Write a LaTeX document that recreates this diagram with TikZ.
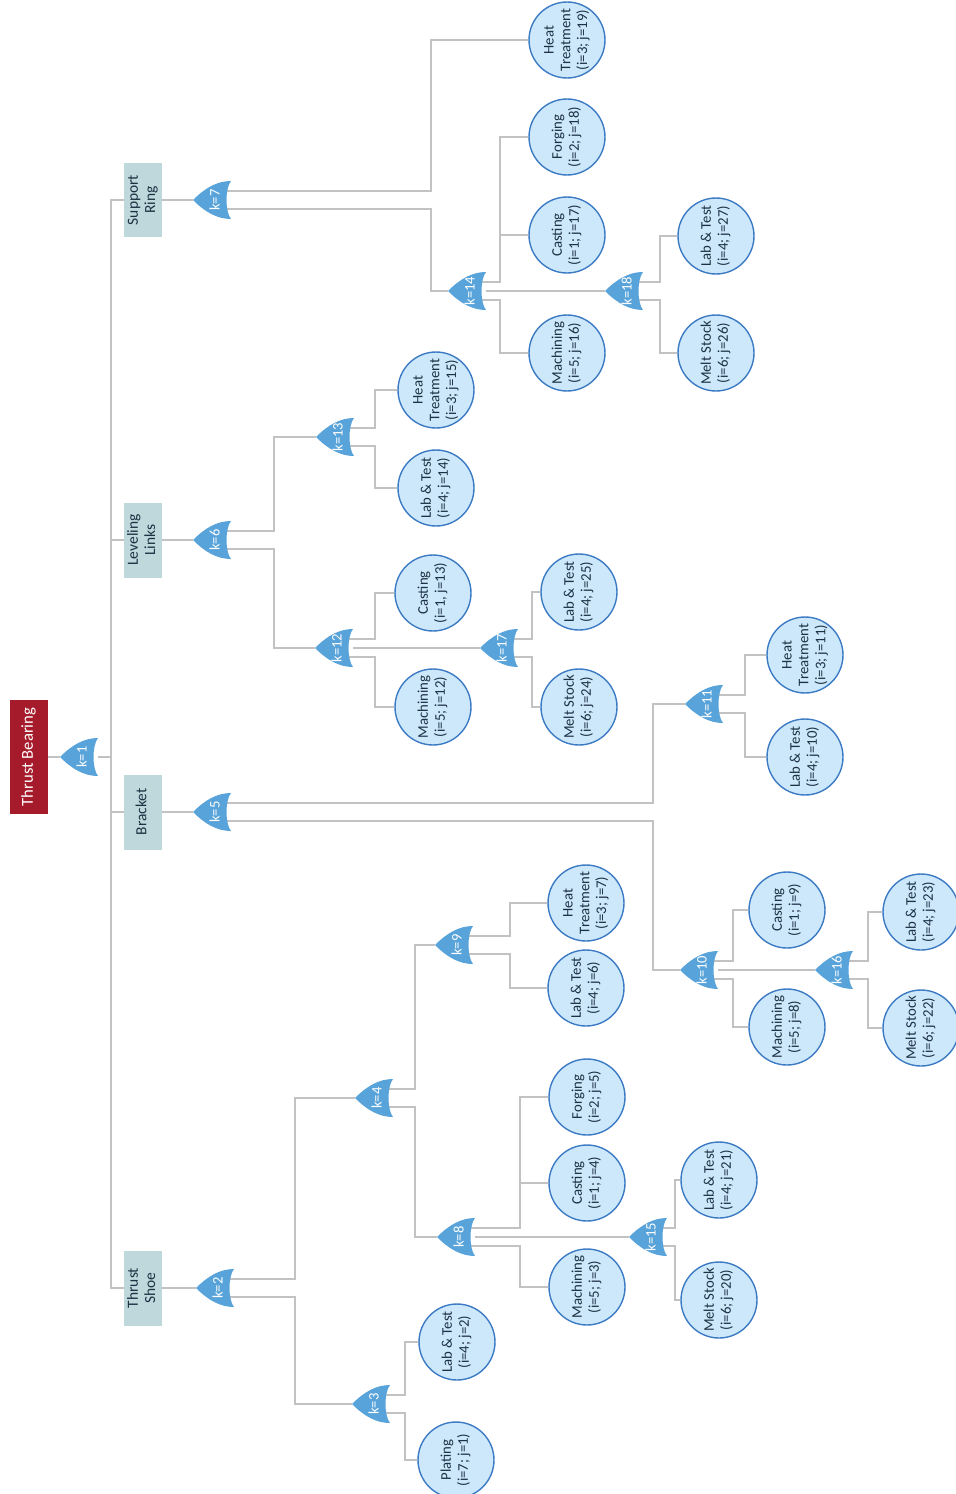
\documentclass[tikz,border=0pt]{standalone}
\usepackage{fontspec}
\setmainfont{Carlito}
\usepackage{graphicx}
\usetikzlibrary{backgrounds}

\definecolor{rootred}{HTML}{A61B2B}
\definecolor{partgray}{HTML}{BFD8DC}
\definecolor{gateblue}{HTML}{58A3D9}
\definecolor{leaffill}{HTML}{CDE8FB}
\definecolor{leafline}{HTML}{3C7BC3}
\definecolor{wiregray}{HTML}{C2C2C2}
\definecolor{inkdark}{HTML}{1C3142}

% labels read upwards
\newcommand{\vlabel}[1]{\rotatebox{90}{\begin{tabular}{@{}c@{}}#1\end{tabular}}}
\newcommand{\klabel}[1]{\rotatebox{90}{\raisebox{-1.5pt}[\height][0pt]{#1}}}

\begin{document}
\begin{tikzpicture}[x=0.02cm, y=-0.02cm,
    root/.style={fill=rootred, text=white, minimum width=0.76cm, minimum height=2.28cm, inner sep=0pt, font=\fontsize{9.5}{11}\selectfont},
    part/.style={fill=partgray, text=inkdark, minimum width=0.76cm, minimum height=1.5cm, inner sep=0pt, font=\fontsize{8.8}{9.8}\selectfont},
    leaf/.style={circle, draw=leafline, line width=0.8pt, fill=leaffill, text=inkdark, minimum size=1.52cm, inner sep=-2.5pt, font=\fontsize{8.4}{9.6}\selectfont},
    gate/.style={minimum width=0.76cm, minimum height=0.76cm, inner sep=0pt, text=white, font=\fontsize{8.3}{9}\selectfont,
      path picture={\fill[gateblue] (path picture bounding box.west)
        .. controls +(0.24cm,0.24cm) and +(-0.28cm,0cm) .. (path picture bounding box.north east)
        .. controls +(-0.12cm,-0.15cm) and +(-0.12cm,0.15cm) .. (path picture bounding box.south east)
        .. controls +(-0.28cm,0cm) and +(0.24cm,-0.24cm) .. cycle;}},
    wire/.style={draw=wiregray, line width=1pt}]
  \useasboundingbox (0,0) rectangle (956,1494);

  % top of the tree
  \node[root] (tb) at (29,757) {\vlabel{Thrust Bearing}};
  \node[gate] (g1) at (79,757) {\klabel{k=1}};
  \coordinate (bus) at (111,757);

  % parts
  \node[part] (sr) at (143,200) {\vlabel{Support\\Ring}};
  \node[part] (ll) at (143,540) {\vlabel{Leveling\\Links}};
  \node[part] (br) at (143,812) {\vlabel{Bracket}};
  \node[part] (ts) at (143,1288) {\vlabel{Thrust\\Shoe}};

  % gates
  \node[gate] (g7) at (212,200) {\klabel{k=7}};
  \node[gate] (g6) at (212,540) {\klabel{k=6}};
  \node[gate] (g5) at (212,812) {\klabel{k=5}};
  \node[gate] (g2) at (215,1288) {\klabel{k=2}};
  \node[gate] (g14) at (467,291) {\klabel{k=14}};
  \node[gate] (g18) at (624,291) {\klabel{k=18}};
  \node[gate] (g13) at (335,437) {\klabel{k=13}};
  \node[gate] (g12) at (334,648) {\klabel{k=12}};
  \node[gate] (g17) at (499,648) {\klabel{k=17}};
  \node[gate] (g11) at (704,704) {\klabel{k=11}};
  \node[gate] (g10) at (699,970) {\klabel{k=10}};
  \node[gate] (g16) at (834,970) {\klabel{k=16}};
  \node[gate] (g4) at (374,1098) {\klabel{k=4}};
  \node[gate] (g9) at (454,945) {\klabel{k=9}};
  \node[gate] (g8) at (456,1237) {\klabel{k=8}};
  \node[gate] (g15) at (648,1237) {\klabel{k=15}};
  \node[gate] (g3) at (371,1404) {\klabel{k=3}};

  % operations
  \node[leaf] (ht19) at (567,40) {\vlabel{Heat\\Treatment\\(i=3; j=19)}};
  \node[leaf] (fg18) at (567,137) {\vlabel{Forging\\(i=2; j=18)}};
  \node[leaf] (cs17) at (567,235) {\vlabel{Casting\\(i=1; j=17)}};
  \node[leaf] (mc16) at (567,353) {\vlabel{Machining\\(i=5; j=16)}};
  \node[leaf] (lt27) at (716,236) {\vlabel{Lab \& Test\\(i=4; j=27)}};
  \node[leaf] (ms26) at (716,353) {\vlabel{Melt Stock\\(i=6; j=26)}};
  \node[leaf] (ht15) at (436,390) {\vlabel{Heat\\Treatment\\(i=3; j=15)}};
  \node[leaf] (lt14) at (436,488) {\vlabel{Lab \& Test\\(i=4; j=14)}};
  \node[leaf] (cs13) at (433,593) {\vlabel{Casting\\(i=1, j=13)}};
  \node[leaf] (mc12) at (433,707) {\vlabel{Machining\\(i=5; j=12)}};
  \node[leaf] (lt25) at (579,592) {\vlabel{Lab \& Test\\(i=4; j=25)}};
  \node[leaf] (ms24) at (579,707) {\vlabel{Melt Stock\\(i=6; j=24)}};
  \node[leaf] (ht11) at (805,655) {\vlabel{Heat\\Treatment\\(i=3; j=11)}};
  \node[leaf] (lt10) at (805,757) {\vlabel{Lab \& Test\\(i=4; j=10)}};
  \node[leaf] (cs9) at (787,910) {\vlabel{Casting\\(i=1; j=9)}};
  \node[leaf] (mc8) at (787,1027) {\vlabel{Machining\\(i=5; j=8)}};
  \node[leaf] (lt23) at (921,912) {\vlabel{Lab \& Test\\(i=4; j=23)}};
  \node[leaf] (ms22) at (921,1028) {\vlabel{Melt Stock\\(i=6; j=22)}};
  \node[leaf] (ht7) at (586,903) {\vlabel{Heat\\Treatment\\(i=3; j=7)}};
  \node[leaf] (lt6) at (586,988) {\vlabel{Lab \& Test\\(i=4; j=6)}};
  \node[leaf] (fg5) at (587,1097) {\vlabel{Forging\\(i=2; j=5)}};
  \node[leaf] (cs4) at (587,1183) {\vlabel{Casting\\(i=1; j=4)}};
  \node[leaf] (mc3) at (587,1287) {\vlabel{Machining\\(i=5; j=3)}};
  \node[leaf] (lt21) at (719,1180) {\vlabel{Lab \& Test\\(i=4; j=21)}};
  \node[leaf] (ms20) at (719,1300) {\vlabel{Melt Stock\\(i=6; j=20)}};
  \node[leaf] (lt2) at (457,1342) {\vlabel{Lab \& Test\\(i=4; j=2)}};
  \node[leaf] (pl1) at (456,1460) {\vlabel{Plating\\(i=7; j=1)}};

  % wiring, kept under the gates
  \begin{scope}[on background layer]
    \draw[wire] (tb) -- (g1);
    \draw[wire] (g1) -- (bus);
    \draw[wire] (sr.west) -| (bus |- ts.west) -- (ts.west);
    \draw[wire] (bus |- ll.west) -- (ll.west);
    \draw[wire] (bus |- br.west) -- (br.west);
    \draw[wire] (sr) -- (g7);
    \draw[wire] (ll) -- (g6);
    \draw[wire] (br) -- (g5);
    \draw[wire] (ts) -- (g2);

    % support ring
    \draw[wire] ([yshift=.18cm]g7.center) -- ++(219,0) |- (ht19);
    \draw[wire] ([yshift=-.18cm]g7.center) -- ++(219,0) |- (g14);
    \draw[wire] ([yshift=.18cm]g14.center) -- ++(33,0) coordinate (j14) |- (fg18);
    \draw[wire] (j14) |- (cs17);
    \draw[wire] (g14) -- (g18);
    \draw[wire] ([yshift=-.18cm]g14.center) -- ++(33,0) |- (mc16);
    \draw[wire] ([yshift=.18cm]g18.center) -- ++(36,0) |- (lt27);
    \draw[wire] ([yshift=-.18cm]g18.center) -- ++(36,0) |- (ms26);

    % leveling links
    \draw[wire] ([yshift=.18cm]g6.center) -- ++(62,0) |- (g13);
    \draw[wire] ([yshift=-.18cm]g6.center) -- ++(62,0) |- (g12);
    \draw[wire] ([yshift=.18cm]g13.center) -- ++(40,0) |- (ht15);
    \draw[wire] ([yshift=-.18cm]g13.center) -- ++(40,0) |- (lt14);
    \draw[wire] ([yshift=.18cm]g12.center) -- ++(41,0) |- (cs13);
    \draw[wire] (g12) -- (g17);
    \draw[wire] ([yshift=-.18cm]g12.center) -- ++(41,0) |- (mc12);
    \draw[wire] ([yshift=.18cm]g17.center) -- ++(33,0) |- (lt25);
    \draw[wire] ([yshift=-.18cm]g17.center) -- ++(33,0) |- (ms24);

    % bracket
    \draw[wire] ([yshift=.18cm]g5.center) -- ++(441,0) |- (g11);
    \draw[wire] ([yshift=-.18cm]g5.center) -- ++(441,0) |- (g10);
    \draw[wire] ([yshift=.18cm]g11.center) -- ++(41,0) |- (ht11);
    \draw[wire] ([yshift=-.18cm]g11.center) -- ++(41,0) |- (lt10);
    \draw[wire] ([yshift=.18cm]g10.center) -- ++(34,0) |- (cs9);
    \draw[wire] (g10) -- (g16);
    \draw[wire] ([yshift=-.18cm]g10.center) -- ++(34,0) |- (mc8);
    \draw[wire] ([yshift=.18cm]g16.center) -- ++(34,0) |- (lt23);
    \draw[wire] ([yshift=-.18cm]g16.center) -- ++(34,0) |- (ms22);

    % thrust shoe
    \draw[wire] ([yshift=.18cm]g2.center) -- ++(80,0) |- (g4);
    \draw[wire] ([yshift=-.18cm]g2.center) -- ++(80,0) |- (g3);
    \draw[wire] ([yshift=.18cm]g4.center) -- ++(41,0) |- (g9);
    \draw[wire] ([yshift=-.18cm]g4.center) -- ++(41,0) |- (g8);
    \draw[wire] ([yshift=.18cm]g9.center) -- ++(56,0) |- (ht7);
    \draw[wire] ([yshift=-.18cm]g9.center) -- ++(56,0) |- (lt6);
    \draw[wire] ([yshift=.18cm]g8.center) -- ++(64,0) coordinate (j8) |- (fg5);
    \draw[wire] (j8) |- (cs4);
    \draw[wire] (g8) -- (g15);
    \draw[wire] ([yshift=-.18cm]g8.center) -- ++(64,0) |- (mc3);
    \draw[wire] ([yshift=.18cm]g15.center) -- ++(27,0) |- (lt21);
    \draw[wire] ([yshift=-.18cm]g15.center) -- ++(27,0) |- (ms20);
    \draw[wire] ([yshift=.18cm]g3.center) -- ++(34,0) |- (lt2);
    \draw[wire] ([yshift=-.18cm]g3.center) -- ++(34,0) |- (pl1);
  \end{scope}
\end{tikzpicture}
\end{document}
